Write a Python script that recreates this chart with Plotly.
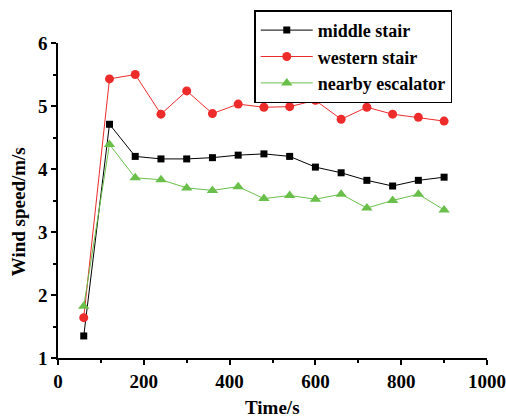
import plotly.graph_objects as go

time_s = [60, 120, 180, 240, 300, 360, 420, 480, 540, 600, 660, 720, 780, 840, 900]
middle_stair = [1.35, 4.71, 4.20, 4.16, 4.16, 4.18, 4.22, 4.24, 4.20, 4.03, 3.94, 3.82, 3.73, 3.82, 3.87]
western_stair = [1.64, 5.43, 5.50, 4.87, 5.24, 4.88, 5.03, 4.98, 4.99, 5.09, 4.79, 4.98, 4.87, 4.82, 4.76]
nearby_escalator = [1.82, 4.39, 3.86, 3.83, 3.70, 3.66, 3.72, 3.53, 3.58, 3.52, 3.60, 3.38, 3.50, 3.60, 3.35]

series_names = ["middle stair", "western stair", "nearby escalator"]
x_ticks = [0, 200, 400, 600, 800, 1000]
y_ticks = [1, 2, 3, 4, 5, 6]

FONT = "Liberation Serif, Times New Roman, serif"
fig = go.Figure()
styles = [
    ("black", "square", 7),
    ("#ee2b2b", "circle", 9),
    ("#6abf4b", "triangle-up", 10),
]
for name, vals, (col, sym, sz) in zip(series_names, [middle_stair, western_stair, nearby_escalator], styles):
    fig.add_trace(go.Scatter(
        x=time_s, y=vals, name=name, mode="lines+markers",
        line=dict(color=col, width=1),
        marker=dict(color=col, symbol=sym, size=sz, line=dict(width=0)),
    ))

bold19 = dict(family=FONT, size=19, color="black", weight="bold")
axis_common = dict(
    showline=True, linecolor="black", linewidth=1.5,
    ticks="outside", ticklen=5, tickwidth=1.5, tickcolor="black",
    showgrid=False, zeroline=False, automargin=False,
    tickfont=bold19,
    mirror=False,
)
fig.update_xaxes(range=[0, 1000], tickvals=x_ticks,
                 minor=dict(ticks="outside", ticklen=3, tickwidth=1.5, tickcolor="black", dtick=100, tick0=0),
                 **axis_common)
fig.update_yaxes(range=[1, 6], tickvals=y_ticks,
                 minor=dict(ticks="outside", ticklen=3, tickwidth=1.5, tickcolor="black", dtick=0.5, tick0=1),
                 **axis_common)

fig.add_annotation(text="Time/s", xref="paper", yref="paper", x=0.5, y=-0.156,
                   yanchor="middle", xanchor="center", showarrow=False, font=bold19)
fig.add_annotation(text="Wind speed/m/s", xref="paper", yref="paper", x=-0.093, y=0.463,
                   xanchor="center", yanchor="middle", textangle=-90, showarrow=False, font=bold19)

fig.update_layout(
    width=506, height=417,
    margin=dict(l=57.5, r=19, t=41.7, b=59.3),
    plot_bgcolor="white", paper_bgcolor="white",
    showlegend=True,
    legend=dict(x=0.4575, y=1.10, xanchor="left", yanchor="top",
                bordercolor="black", borderwidth=1.5, bgcolor="white",
                font=dict(family=FONT, size=18, color="black", weight="bold"),
                itemwidth=52, tracegroupgap=0),
)
fig.write_html("out.html", config={"displayModeBar": False},
               post_script="document.body.style.margin='0';document.body.style.overflow='hidden';")
